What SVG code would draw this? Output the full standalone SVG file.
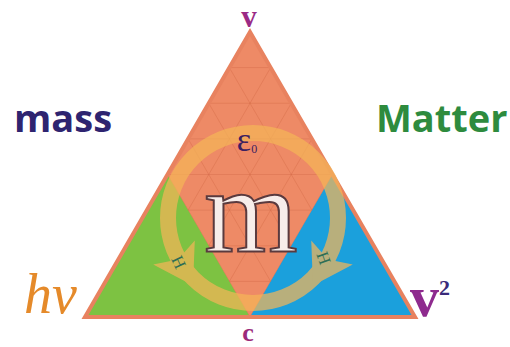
<svg xmlns="http://www.w3.org/2000/svg" width="510" height="347" viewBox="0 0 510 347">
<style>
.lbl{font-family:"Liberation Serif",serif;font-weight:bold}
.word{font-family:"Open Sans","Liberation Sans",sans-serif;font-weight:bold;font-size:38px}
.grid line{stroke:#D26A4A;stroke-width:1;opacity:0.4}
.hh{font-family:"Liberation Serif",serif;font-size:17px;fill:#2E6E55;text-anchor:middle}
</style>
<defs>
<clipPath id="orangeClip"><polygon points="250,32 167.5,174.5 250,317 332.5,174.5"/></clipPath>
<polygon id="ah" points="26,0 -12,-24 -4,0 -12,24"/>
</defs>
<rect width="510" height="347" fill="#ffffff"/>
<g id="triangle">
<polygon points="250,32 85,317 415,317" fill="#EE8A66"/>
<polygon points="85,317 167.5,174.5 250,317" fill="#7DC242"/>
<polygon points="415,317 332.5,174.5 250,317" fill="#1BA0DC"/>
<g class="grid" clip-path="url(#orangeClip)">
<line x1="0" y1="67.6" x2="510" y2="67.6"/>
<line x1="0" y1="103.25" x2="510" y2="103.25"/>
<line x1="0" y1="138.9" x2="510" y2="138.9"/>
<line x1="0" y1="174.5" x2="510" y2="174.5"/>
<line x1="0" y1="210.1" x2="510" y2="210.1"/>
<line x1="0" y1="245.75" x2="510" y2="245.75"/>
<line x1="0" y1="281.4" x2="510" y2="281.4"/>
<line x1="126.25" y1="317" x2="291.25" y2="32"/>
<line x1="167.5" y1="317" x2="332.5" y2="32"/>
<line x1="208.75" y1="317" x2="373.75" y2="32"/>
<line x1="250" y1="317" x2="415" y2="32"/>
<line x1="291.25" y1="317" x2="456.25" y2="32"/>
<line x1="332.5" y1="317" x2="497.5" y2="32"/>
<line x1="373.75" y1="317" x2="538.75" y2="32"/>
<line x1="373.75" y1="317" x2="208.75" y2="32"/>
<line x1="332.5" y1="317" x2="167.5" y2="32"/>
<line x1="291.25" y1="317" x2="126.25" y2="32"/>
<line x1="250" y1="317" x2="85" y2="32"/>
<line x1="208.75" y1="317" x2="43.75" y2="32"/>
<line x1="167.5" y1="317" x2="2.5" y2="32"/>
<line x1="126.25" y1="317" x2="-38.75" y2="32"/>
</g>
<polygon points="250,32 85,317 415,317" fill="none" stroke="#E8825F" stroke-width="4" stroke-linejoin="miter"/>
</g>
<g id="cycle" opacity="0.72">
<circle cx="253" cy="218" r="85" fill="none" stroke="#F5B558" stroke-width="16"/>
<use href="#ah" transform="translate(180,263) rotate(60)" fill="#F5B558"/>
<use href="#ah" transform="translate(326,263) rotate(120)" fill="#F5B558"/>
</g>
<g id="cycle-labels">
<text class="hh" transform="translate(179,262) rotate(65)" dy="6">H</text>
<text class="hh" transform="translate(324,258) rotate(70)" dy="6">H</text>
</g>
<g id="center">
<text x="247" y="151" font-family="Liberation Serif,serif" font-size="34" fill="#3B2060" text-anchor="middle">ε<tspan font-size="12" dy="2">0</tspan></text>
<text x="251" y="252" font-family="Liberation Serif,serif" font-size="120" fill="#F7EDEA" stroke="#5A3A3E" stroke-width="2" text-anchor="middle">m</text>
</g>
<g id="vertex-v"><text class="lbl" x="249" y="27" font-size="31" fill="#9B2A85" text-anchor="middle">v</text></g>
<g id="vertex-c"><text class="lbl" x="248" y="341" font-size="26" fill="#9B2A7A" text-anchor="middle">c</text></g>
<g id="vertex-hv"><text x="24" y="313" font-family="Liberation Serif,serif" font-style="italic" font-size="56" fill="#E58A2A">hν</text></g>
<g id="vertex-v2"><text class="lbl" x="410" y="316" font-size="58" fill="#8E2A8E">v<tspan font-size="22" dy="-21" fill="#3A2A7A">2</tspan></text></g>
<g id="mass"><text class="word" x="14" y="132" fill="#2E2470">mass</text></g>
<g id="matter"><text class="word" x="376" y="132" fill="#2E8B3E">Matter</text></g>
</svg>
